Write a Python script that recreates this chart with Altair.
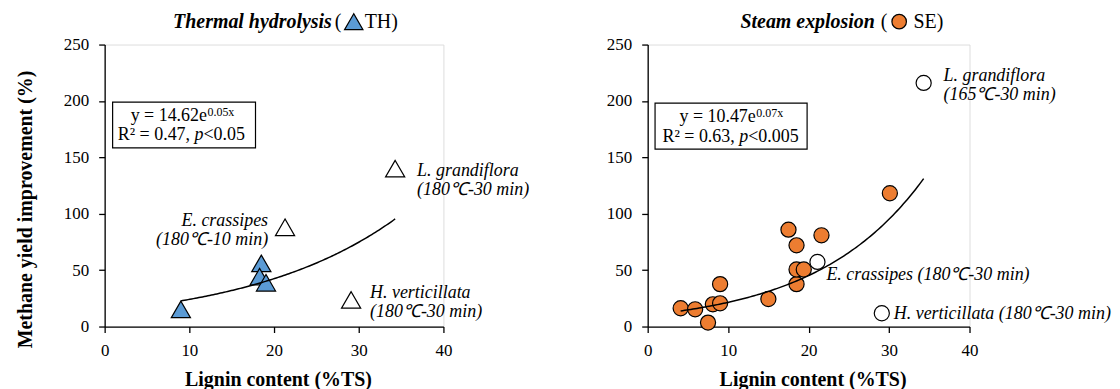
import altair as alt
import pandas as pd
import numpy as np

FONT = "Liberation Serif"
BLUE = "#5B9BD5"
ORANGE = "#ED7D31"

# ---------------- data ----------------
# Thermal hydrolysis (TH)
th_lignin = [9.0, 18.5, 18.3, 19.05]
th_yield = [15.2, 56.0, 44.2, 38.8]
th_open_names = ["E. crassipes", "L. grandiflora", "H. verticillata"]
th_open_lignin = [21.3, 34.3, 29.1]
th_open_yield = [88.0, 140.0, 23.6]
th_label_lines = [
    ["E. crassipes", "(180℃-10 min)"],
    ["L. grandiflora", "(180℃-30 min)"],
    ["H. verticillata", "(180℃-30 min)"],
]

# Steam explosion (SE)
se_lignin = [4.1, 5.9, 7.5, 8.1, 9.0, 9.0, 15.0, 17.5, 18.5, 18.5, 18.5, 19.4, 21.6, 30.1]
se_yield = [16.2, 15.3, 3.5, 19.7, 20.6, 37.6, 24.4, 85.9, 72.0, 37.6, 50.6, 50.6, 80.9, 118.2]
se_open_names = ["E. crassipes", "L. grandiflora", "H. verticillata"]
se_open_lignin = [21.1, 34.3, 29.1]
se_open_yield = [57.3, 216.0, 11.8]
se_label_lines = [
    ["E. crassipes (180℃-30 min)"],
    ["L. grandiflora", "(165℃-30 min)"],
    ["H. verticillata (180℃-30 min)"],
]

th_eq = ["y = 14.62e", "0.05x", "R² = 0.47,", "p", "<0.05"]
se_eq = ["y = 10.47e", "0.07x", "R² = 0.63,", "p", "<0.005"]

x_ticks = [0, 10, 20, 30, 40]
y_ticks = [0, 50, 100, 150, 200, 250]


def fit_curve(xs, ys):
    b, ln_a = np.polyfit(np.array(xs), np.log(np.array(ys)), 1)
    grid = np.linspace(min(xs), max(xs), 120)
    return pd.DataFrame({"x": grid, "y": np.exp(ln_a) * np.exp(b * grid)})


one = pd.DataFrame({"k": [0]})


def txt(text, x, y, size=18, align="left", style="normal", weight="normal"):
    return alt.Chart(one).mark_text(
        text=text, font=FONT, fontSize=size, align=align, baseline="alphabetic",
        fontStyle=style, fontWeight=weight, color="black",
    ).encode(x=alt.value(x), y=alt.value(y))


def panel(width, f_x, f_y, o_names, o_x, o_y, labels, label_style, shape, fill, size,
          eq, eqpos, title_parts, ytitle):
    height = 283
    xs = alt.Scale(domain=[0, 40], nice=False, zero=False)
    ys = alt.Scale(domain=[0, 250], nice=False)
    xaxis = alt.Axis(
        values=x_ticks, title="Lignin content (%TS)", titleFont=FONT, titleFontSize=20,
        titleFontWeight="bold", titleColor="black", titleBaseline="alphabetic",
        titleY=59.5, titleX=width / 2 + 4, titleAlign="center",
        labelFont=FONT, labelFontSize=17, labelColor="black", labelPadding=10,
        tickSize=6, tickColor="black", tickWidth=1.3, domainColor="black",
        domainWidth=1.3, grid=False, labelFlush=False, labelOverlap=False,
    )
    yaxis_kw = dict(
        values=y_ticks, labelFont=FONT, labelFontSize=17, labelColor="black",
        labelPadding=10, tickSize=6, tickColor="black", tickWidth=1.3,
        domainColor="black", domainWidth=1.3, grid=False, labelFlush=False,
        labelOverlap=False,
    )
    if ytitle:
        yaxis = alt.Axis(
            title="Methane yield improvement (%)", titleFont=FONT, titleFontSize=20,
            titleFontWeight="bold", titleColor="black", titleAngle=270,
            titleBaseline="alphabetic", titleAlign="center", titleX=-73, titleY=165,
            **yaxis_kw,
        )
    else:
        yaxis = alt.Axis(title=None, **yaxis_kw)

    filled = pd.DataFrame({"x": f_x, "y": f_y})
    opened = pd.DataFrame({"name": o_names, "x": o_x, "y": o_y})
    curve = fit_curve(list(f_x) + list(o_x), list(f_y) + list(o_y))

    base_x = alt.X("x:Q", scale=xs, axis=xaxis)
    base_y = alt.Y("y:Q", scale=ys, axis=yaxis)

    pts = alt.Chart(filled).mark_point(
        shape=shape, filled=True, fill=fill, stroke="black", strokeWidth=1.2,
        size=size, opacity=1, fillOpacity=1,
    ).encode(x=base_x, y=base_y)
    opts = alt.Chart(opened).mark_point(
        shape=shape, filled=True, fill="white", stroke="black", strokeWidth=1.2,
        size=size, opacity=1, fillOpacity=1,
    ).encode(x=alt.X("x:Q", scale=xs), y=alt.Y("y:Q", scale=ys))
    line = alt.Chart(curve).mark_line(color="black", strokeWidth=1.5).encode(
        x=alt.X("x:Q", scale=xs), y=alt.Y("y:Q", scale=ys)
    )

    layers = [pts, opts, line]
    for name, lines, (align, dx, dy) in zip(o_names, labels, label_style):
        layers.append(
            alt.Chart(opened).transform_filter(alt.datum.name == name).mark_text(
                text=lines, font=FONT, fontSize=18, fontStyle="italic", align=align,
                baseline="alphabetic", dx=dx, dy=dy, lineHeight=19, color="black",
            ).encode(x=alt.X("x:Q", scale=xs), y=alt.Y("y:Q", scale=ys))
        )

    # equation box
    bx0, bx1, by0, by1, r1, s1, yb1, ys1, p2, yb2 = eqpos
    layers.append(
        alt.Chart(one).mark_rect(fill="white", stroke="black", strokeWidth=1.2).encode(
            x=alt.value(bx0), x2=alt.value(bx1), y=alt.value(by0), y2=alt.value(by1)
        )
    )
    layers.append(txt(eq[0], r1, yb1, align="right"))
    layers.append(txt(eq[1], s1, ys1, size=12))
    layers.append(txt(eq[2], p2, yb2, align="right"))
    layers.append(txt(eq[3], p2 + 4.5, yb2, style="italic"))
    layers.append(txt(eq[4], p2 + 13.5, yb2))

    # panel title
    t_text, t_right, t_paren, t_mark_x, t_rest, t_rest_x = title_parts
    layers.append(txt(t_text, t_right, -17, size=20, align="right", style="italic", weight="bold"))
    layers.append(txt("(", t_paren, -17, size=20))
    layers.append(
        alt.Chart(one).mark_point(
            shape=shape, filled=True, fill=fill, stroke="black", strokeWidth=1.2,
            size=size * 0.92, opacity=1,
        ).encode(x=alt.value(t_mark_x), y=alt.value(-23))
    )
    layers.append(txt(t_rest, t_rest_x, -17, size=20))

    return alt.layer(*layers).properties(width=width, height=height)


left = panel(
    340, th_lignin, th_yield, th_open_names, th_open_lignin, th_open_yield,
    th_label_lines, [("right", -17, -1), ("left", 22, 7), ("left", 19, -2)],
    "triangle-up", BLUE, 370, th_eq,
    (8, 151.4, 57.7, 103.7, 102.7, 103.2, 77, 72, 85.7, 96),
    ("Thermal hydrolysis", 228, 231, 250, "TH)", 261),
    True,
)
right = panel(
    323, se_lignin, se_yield, se_open_names, se_open_lignin, se_open_yield,
    se_label_lines, [("left", 9, 18), ("left", 20, -2), ("left", 12, 6)],
    "circle", ORANGE, 230, se_eq,
    (7.4, 160, 58.7, 105, 108.5, 109, 77.7, 72.7, 87.4, 97.7),
    ("Steam explosion", 228, 234, 252.4, "SE)", 266.7),
    False,
)

chart = alt.hconcat(left, right, spacing=205, bounds="flush").properties(
    padding={"left": 7, "top": 2, "right": 0, "bottom": 0}
).configure_view(stroke=None).configure(background="white")

chart.save("out.html", embed_options={"renderer": "svg", "actions": False})
